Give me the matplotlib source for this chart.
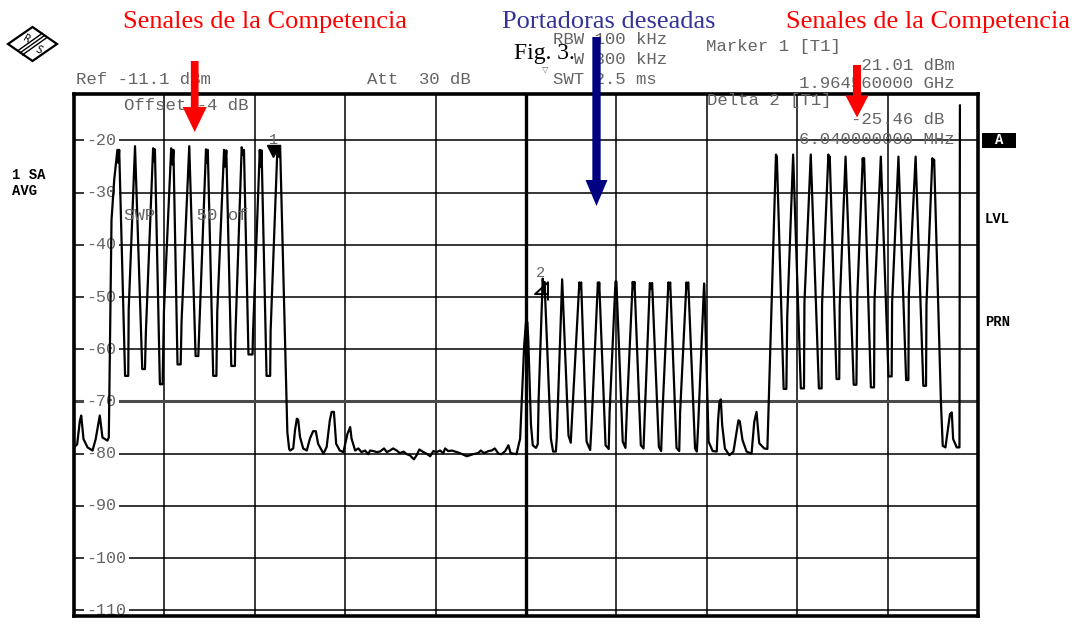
import matplotlib
matplotlib.use("Agg")
import matplotlib.pyplot as plt
import matplotlib.transforms as mtransforms
from matplotlib.patches import FancyArrow, Polygon, Rectangle
from matplotlib.lines import Line2D
from matplotlib.path import Path

# ---------------------------------------------------------------------------
# Spectrum trace (frequency offset from 1.97 GHz in MHz, level in dBm)
# ---------------------------------------------------------------------------
comp_low_f = [-10.00, -9.93, -9.87, -9.84, -9.79, -9.70, -9.59, -9.52, -9.43, -9.37,
              -9.26, -9.23, -9.17, -9.11, -9.04, -9.02, -9.00, -8.87, -8.80, -8.79,
              -8.65, -8.49, -8.43, -8.41, -8.25, -8.23, -8.21, -8.10, -8.04, -8.01,
              -7.85, -7.82, -7.80, -7.71, -7.64, -7.62, -7.45, -7.31, -7.25, -7.23,
              -7.08, -7.06, -7.04, -6.92, -6.85, -6.83, -6.68, -6.66, -6.63, -6.52,
              -6.44, -6.43, -6.29, -6.26, -6.24, -6.14, -6.05, -6.04, -5.89, -5.87,
              -5.85, -5.74, -5.66, -5.65, -5.50, -5.47, -5.44, -5.28, -5.24]
comp_low_db = [-78.8, -78.2, -73.7, -72.7, -77.2, -78.8, -79.4, -77.2, -72.7, -76.9,
               -77.5, -76.9, -35.2, -27.5, -21.8, -24.3, -21.8, -65.1, -65.1, -52.4,
               -21.1, -63.8, -63.8, -56.8, -21.5, -24.0, -21.7, -66.7, -66.7, -52.7,
               -21.5, -24.6, -21.8, -62.9, -62.9, -54.6, -21.1, -61.3, -61.3, -56.5,
               -21.7, -24.3, -21.8, -65.1, -65.1, -52.7, -21.8, -25.0, -21.9, -63.2,
               -63.2, -57.5, -21.3, -22.7, -21.8, -61.0, -61.0, -57.1, -21.8, -25.0,
               -21.9, -65.1, -65.1, -56.5, -21.5, -23.1, -21.01, -75.9, -79.1]

floor_f = [-5.22, -5.15, -5.11, -5.07, -5.04, -5.00, -4.93, -4.85, -4.78, -4.71,
           -4.65, -4.60, -4.48, -4.41, -4.34, -4.30, -4.25, -4.20, -4.12, -4.04,
           -3.95, -3.89, -3.86, -3.78, -3.71, -3.64, -3.56, -3.49, -3.45, -3.38,
           -3.30, -3.23, -3.14, -3.08, -3.01, -2.94, -2.86, -2.79, -2.71, -2.64,
           -2.57, -2.48, -2.42, -2.36, -2.27, -2.20, -2.12, -2.05, -1.98, -1.90,
           -1.83, -1.79, -1.72, -1.64, -1.53, -1.46, -1.31, -1.17, -1.06, -1.00,
           -0.93, -0.83, -0.76, -0.69, -0.61, -0.54, -0.46, -0.39, -0.34, -0.21]
floor_db = [-79.4, -79.0, -75.5, -73.3, -73.5, -76.8, -79.0, -79.4, -77.1, -75.7,
            -75.7, -78.1, -80.0, -78.7, -73.6, -72.0, -72.0, -78.1, -79.4, -79.7,
            -76.2, -74.9, -77.1, -79.4, -79.0, -79.7, -79.4, -80.1, -79.4, -79.5,
            -79.7, -79.6, -79.0, -79.7, -79.4, -79.0, -79.4, -79.9, -79.6, -80.1,
            -80.3, -81.1, -80.3, -79.2, -79.7, -80.0, -80.5, -79.5, -79.7, -79.4,
            -79.9, -79.0, -79.5, -79.4, -79.7, -79.9, -80.5, -80.1, -79.9, -79.4,
            -79.9, -79.5, -79.4, -79.0, -80.0, -80.1, -79.5, -78.4, -79.9, -80.1]

wanted_f = [-0.13, -0.04, 0.00, 0.03, 0.05, 0.11, 0.15, 0.22, 0.26, 0.28,
            0.37, 0.39, 0.41, 0.55, 0.60, 0.66, 0.68, 0.80, 0.94, 0.99,
            1.03, 1.18, 1.20, 1.22, 1.34, 1.42, 1.45, 1.59, 1.61, 1.62,
            1.76, 1.83, 1.85, 1.98, 2.00, 2.14, 2.20, 2.23, 2.36, 2.38,
            2.40, 2.54, 2.60, 2.63, 2.74, 2.77, 2.79, 2.94, 2.99, 3.02,
            3.15, 3.17, 3.19, 3.33, 3.39, 3.41, 3.55, 3.56, 3.59, 3.74,
            3.78, 3.81, 3.94, 3.95, 4.04, 4.13, 4.22, 4.25, 4.28, 4.31,
            4.34, 4.40, 4.50, 4.59, 4.70, 4.73, 4.79, 4.88, 4.99, 5.05,
            5.10, 5.16, 5.27]
wanted_db = [-77.1, -59.2, -54.8, -54.8, -58.0, -74.5, -78.4, -78.9, -78.2, -69.4,
             -46.47, -49.0, -47.1, -77.1, -79.6, -79.6, -77.1, -46.6, -76.5, -77.9,
             -71.3, -47.2, -48.4, -47.2, -77.7, -79.3, -74.5, -47.2, -48.7, -47.2,
             -78.4, -79.1, -72.0, -47.0, -47.0, -77.7, -78.9, -72.0, -47.1, -48.4,
             -47.1, -78.4, -79.0, -72.0, -47.3, -48.4, -47.3, -78.7, -79.5, -72.0,
             -47.2, -48.4, -47.2, -78.9, -79.5, -72.0, -47.2, -48.4, -47.2, -79.0,
             -79.6, -74.5, -47.4, -49.0, -77.7, -79.5, -79.6, -73.6, -70.1, -69.6,
             -74.5, -79.0, -80.3, -79.6, -73.6, -73.8, -77.4, -79.6, -80.0, -73.9,
             -72.0, -78.0, -79.0]

comp_high_f = [5.34, 5.53, 5.55, 5.70, 5.76, 5.78, 5.91, 6.08, 6.15, 6.16,
               6.30, 6.48, 6.54, 6.55, 6.69, 6.71, 6.72, 6.87, 6.93, 6.94,
               7.07, 7.25, 7.31, 7.33, 7.45, 7.46, 7.48, 7.63, 7.70, 7.71,
               7.85, 8.02, 8.09, 8.10, 8.24, 8.41, 8.46, 8.47, 8.62, 8.79,
               8.85, 8.86, 8.99, 9.01, 9.03, 9.18, 9.22, 9.28, 9.38, 9.42,
               9.45, 9.53, 9.59, 9.60]
comp_high_db = [-79.1, -22.7, -23.1, -67.6, -67.6, -53.6, -22.7, -67.5, -67.5, -51.1,
                -22.7, -67.5, -67.5, -51.4, -22.7, -24.3, -23.1, -65.7, -65.7, -51.7,
                -23.1, -66.8, -66.8, -49.8, -23.4, -24.6, -23.4, -67.3, -67.3, -50.8,
                -23.1, -65.2, -65.2, -51.1, -23.1, -65.9, -65.9, -49.5, -23.1, -67.0,
                -67.0, -51.4, -23.4, -24.6, -23.7, -70.2, -78.5, -78.8, -72.4, -72.1,
                -77.2, -78.8, -78.8, -13.3]

# Markers (frequency offset MHz, level dBm)
marker1 = (-5.44, -21.01)
marker2 = (0.37, -46.47)

ref_level = -11.1
y_ticks = [-20, -30, -40, -50, -60, -70, -80, -90, -100, -110]
x_ticks = [-10, -8, -6, -4, -2, 0, 2, 4, 6, 8, 10]

# ---------------------------------------------------------------------------
W, H = 1072, 638
fig = plt.figure(figsize=(W / 100, H / 100), dpi=100)
fig.patch.set_facecolor("white")


def fx(x):
    return x / W


def fy(y):
    return 1 - y / H


# pixel coordinates with the origin at the top-left corner
PX = mtransforms.Affine2D().scale(1 / W, -1 / H).translate(0, 1) + fig.transFigure

ax = fig.add_axes([fx(74), fy(616), (978 - 74) / W, (616 - 94) / H])
ax.set_xlim(-10, 10)
ax.set_ylim(ref_level - 100, ref_level)
ax.set_xticks(x_ticks)
ax.set_yticks(y_ticks)
ax.tick_params(length=0, labelbottom=False, labelleft=False)
ax.grid(True, color="black", lw=1.1)
ax.set_axisbelow(True)
for sp in ax.spines.values():
    sp.set_linewidth(2.6)
    sp.set_color("black")

# display line and centre line
ax.axhline(-70, color="#4a4a4a", lw=2.2, zorder=1.5)
ax.axvline(0, color="black", lw=2.4, zorder=1.5)

freq = comp_low_f + floor_f + wanted_f + comp_high_f
level = comp_low_db + floor_db + wanted_db + comp_high_db
ax.plot(freq, level, color="black", lw=1.6, zorder=3)

gray = "#646464"
mono = "Liberation Mono"
FS = 12.5
ADV = 0.6 * FS * 100 / 72  # monospace advance in pixels

# level labels inside the grid
lab_tr = mtransforms.blended_transform_factory(ax.transAxes, ax.transData)
for v in y_ticks:
    ax.text((86 - 74) / 904, v, f"{v}", transform=lab_tr, ha="left", va="center",
            family=mono, fontsize=12, color=gray, zorder=2,
            bbox=dict(boxstyle="square,pad=0.15", fc="white", ec="none"))

# markers
m1_tr = mtransforms.offset_copy(ax.transData, fig=fig, x=-7, y=-5, units="dots")
ax.plot(*marker1, marker="v", ms=9, color="black", transform=m1_tr, zorder=4, clip_on=False)
m1_lab = mtransforms.offset_copy(ax.transData, fig=fig, x=-7, y=6, units="dots")
ax.text(*marker1, "1", transform=m1_lab, ha="center", va="center",
        family=mono, fontsize=11, color=gray, zorder=4)

delta_path = Path([(0.5, 0.7), (-0.5, -0.2), (0.5, -0.2), (0.5, 0.7), (0.5, -0.7)],
                  [Path.MOVETO, Path.LINETO, Path.LINETO, Path.LINETO, Path.LINETO])
m2_tr = mtransforms.offset_copy(ax.transData, fig=fig, x=-2, y=-12, units="dots")
ax.plot(*marker2, marker=delta_path, ms=13, mfc="none", mec="black", mew=1.4,
        transform=m2_tr, zorder=4)
m2_lab = mtransforms.offset_copy(ax.transData, fig=fig, x=-2, y=6, units="dots")
ax.text(*marker2, "2", transform=m2_lab, ha="center", va="center",
        family=mono, fontsize=11, color=gray, zorder=4)


def info(x, y, s, ha="left", z=3):
    fig.text(fx(x), fy(y), s, ha=ha, va="center", family=mono,
             fontsize=FS, color=gray, zorder=z)


info(76, 79, "Ref -11.1 dBm")
info(418.5, 79, "Att  30 dB", ha="center")
info(553, 40, "RBW 100 kHz", z=6)
info(553, 59, "VBW 300 kHz", z=4)
info(553, 79, "SWT 2.5 ms", z=6)
info(706, 46, "Marker 1 [T1]")
info(955, 65, "-21.01 dBm", ha="right")
info(955, 84, "1.964560000 GHz", ha="right")
info(707, 101, "Delta 2 [T1]")
info(955 - ADV, 120, "-25.46 dB", ha="right")
info(955, 139, "6.040000000 MHz", ha="right")
info(124, 105, "Offset -4 dB")
info(124, 215, "SWP    50 of")

# side labels
side = dict(family=mono, fontweight="bold", fontsize=10, color="black", va="center")
fig.text(fx(12), fy(175), "1 SA", ha="left", **side)
fig.text(fx(12), fy(191), "AVG", ha="left", **side)
fig.text(fx(985), fy(219), "LVL", ha="left", **side)
fig.text(fx(985), fy(322), "PRN", ha="left", **side)
fig.add_artist(Rectangle((982, 133), 34, 15, transform=PX, fc="black", ec="none"))
fig.text(fx(999), fy(140.5), "A", ha="center", va="center", family=mono,
         fontweight="bold", fontsize=10, color="white")

# titles
serif = "Liberation Serif"
fig.text(fx(265), fy(22), "Senales de la Competencia", color="#ff0000",
         family=serif, fontsize=19, ha="center", va="center")
fig.text(fx(608.5), fy(22), "Portadoras deseadas", color="#333399",
         family=serif, fontsize=19, ha="center", va="center")
fig.text(fx(927.5), fy(22), "Senales de la Competencia", color="#ff0000",
         family=serif, fontsize=19, ha="center", va="center")
fig.text(fx(544), fy(54), "Fig. 3.", color="black", family=serif, fontsize=17,
         ha="center", va="center", zorder=5,
         bbox=dict(boxstyle="square,pad=0.0", fc="white", ec="none"))
fig.text(fx(545), fy(69), "\u25bd", color=gray, family="DejaVu Sans", fontsize=6,
         ha="center", va="center", zorder=6)

# arrows
for x0, y0, y1, w, hw, hl, c in [(194.7, 61, 132, 7.7, 24, 25, "#ff0000"),
                                 (857, 65, 117.5, 8, 23, 22, "#ff0000"),
                                 (596.5, 37, 206, 8.3, 22, 26, "#000080")]:
    fig.add_artist(FancyArrow(x0, y0, 0, y1 - y0, width=w, head_width=hw,
                              head_length=hl, length_includes_head=True,
                              transform=PX, fc=c, ec="none", zorder=10))

# Rohde & Schwarz logo
cx, cy = 32.5, 44
diamond = [(cx - 24.5, cy), (cx, cy - 17), (cx + 24.5, cy), (cx, cy + 17)]
fig.add_artist(Polygon(diamond, closed=True, transform=PX, fc="none",
                       ec="black", lw=1.6))
for d in (-2.2, 0, 2.2):
    fig.add_artist(Line2D([20.3 + d, 44.5 + d], [52.7 + d, 35.5 + d],
                          transform=PX, color="black", lw=1.0))
fig.text(fx(26), fy(39), "R", family="DejaVu Sans", fontsize=7, rotation=-30,
         ha="center", va="center", color="black")
fig.text(fx(39), fy(50), "S", family="DejaVu Sans", fontsize=7, rotation=-30,
         ha="center", va="center", color="black")

fig.savefig("out.png", dpi=100, facecolor="white")
